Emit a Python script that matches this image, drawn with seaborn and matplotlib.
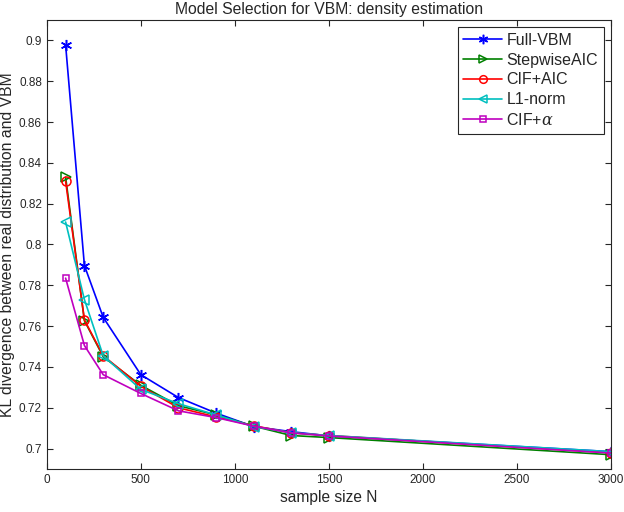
import numpy as np
import pandas as pd
import matplotlib
matplotlib.use("Agg")
import matplotlib.pyplot as plt
import seaborn as sns

sample_sizes = [100, 200, 300, 500, 700, 900, 1100, 1300, 1500, 3000]
full_vbm     = [0.8978, 0.7897, 0.7643, 0.7362, 0.7250, 0.7174, 0.7108, 0.7083, 0.7062, 0.6985]
stepwise_aic = [0.8330, 0.7627, 0.7450, 0.7310, 0.7210, 0.7165, 0.7110, 0.7064, 0.7054, 0.6970]
cif_aic      = [0.8310, 0.7630, 0.7455, 0.7305, 0.7200, 0.7155, 0.7112, 0.7077, 0.7064, 0.6980]
l1_norm      = [0.8110, 0.7730, 0.7455, 0.7290, 0.7220, 0.7165, 0.7108, 0.7078, 0.7064, 0.6985]
cif_alpha    = [0.7835, 0.7505, 0.7362, 0.7270, 0.7185, 0.7152, 0.7110, 0.7077, 0.7062, 0.6978]

series_names = ["Full-VBM", "StepwiseAIC", "CIF+AIC", "L1-norm", "CIF+$\\alpha$"]
series_vals = [full_vbm, stepwise_aic, cif_aic, l1_norm, cif_alpha]
colors = ["#0000ff", "#008000", "#ff0000", "#00bfbf", "#bf00bf"]
markers = [(6, 2, 0), ">", "o", "<", "s"]
msizes = [8, 6.5, 6.5, 6.5, 5]

sns.set_style("ticks")
plt.rcParams['font.family'] = ['Liberation Sans', 'DejaVu Sans']
plt.rcParams['mathtext.fontset'] = 'dejavuserif'

fig = plt.figure(figsize=(6.24, 5.12), dpi=100)
ax = fig.add_axes([0.075, 0.084, 0.904, 0.877])

for name, vals, c, m, ms in zip(series_names, series_vals, colors, markers, msizes):
    df = pd.DataFrame({"N": sample_sizes, "KL": vals})
    sns.lineplot(data=df, x="N", y="KL", ax=ax, color=c, marker=m,
                 markersize=ms, markerfacecolor="none", markeredgecolor=c,
                 markeredgewidth=1.1, linewidth=1.2, label=name)

ax.set_xlim(0, 3000)
ax.set_ylim(0.69, 0.91)
ax.set_xticks([0, 500, 1000, 1500, 2000, 2500, 3000])
ax.set_xticklabels(["0", "500", "1000", "1500", "2000", "2500", "3000"])
yt = [0.7, 0.72, 0.74, 0.76, 0.78, 0.8, 0.82, 0.84, 0.86, 0.88, 0.9]
ax.set_yticks(yt)
ax.set_yticklabels(["0.7", "0.72", "0.74", "0.76", "0.78", "0.8", "0.82", "0.84", "0.86", "0.88", "0.9"])
ax.tick_params(direction="in", top=True, right=True, labelsize=8.5, colors="#262626",
               length=4, width=0.8)
for s in ax.spines.values():
    s.set_visible(True)
    s.set_color("#262626")
    s.set_linewidth(0.8)

ax.set_xlabel("sample size N", fontsize=11.2, color="#262626", labelpad=3)
ax.set_ylabel("KL divergence between real distribution and VBM", fontsize=11.3, color="#262626", labelpad=3)
ax.set_title("Model Selection for VBM: density estimation", fontsize=11.3, color="#262626", pad=4)

leg = ax.legend(loc="upper right", fontsize=11.5, frameon=True, fancybox=False,
                edgecolor="#262626", framealpha=1, handlelength=2.4,
                borderaxespad=0.45, labelspacing=0.3, handletextpad=0.3,
                borderpad=0.35, markerscale=0.85)
leg.get_frame().set_linewidth(0.8)

fig.savefig("out.png", dpi=100)
